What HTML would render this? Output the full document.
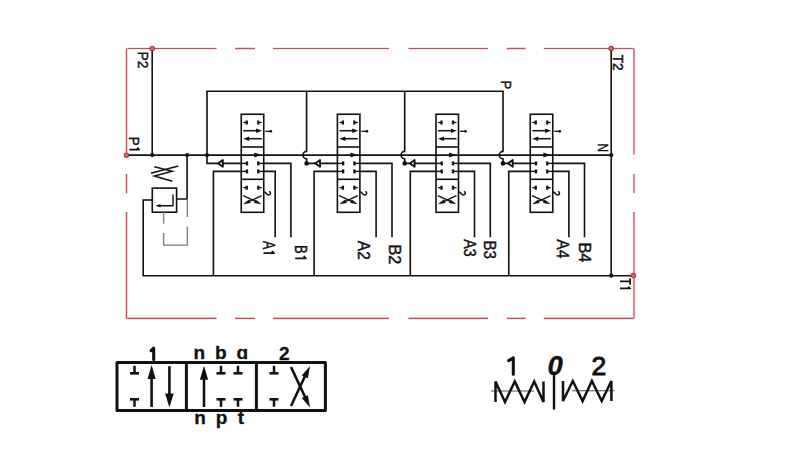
<!DOCTYPE html>
<html><head><meta charset="utf-8"><style>
html,body{margin:0;padding:0;background:#fff;width:800px;height:450px;overflow:hidden}
svg{display:block}
text{font-family:"Liberation Sans",sans-serif}
</style></head><body>
<svg width="800" height="450" viewBox="0 0 800 450">
<rect width="800" height="450" fill="#fff"/>
<line x1="126.5" y1="48.5" x2="216.5" y2="48.5" stroke="#f8dede" stroke-width="2.6" />
<line x1="235" y1="48.5" x2="255" y2="48.5" stroke="#f8dede" stroke-width="2.6" />
<line x1="273" y1="48.5" x2="389" y2="48.5" stroke="#f8dede" stroke-width="2.6" />
<line x1="408.5" y1="48.5" x2="488" y2="48.5" stroke="#f8dede" stroke-width="2.6" />
<line x1="506.7" y1="48.5" x2="525.5" y2="48.5" stroke="#f8dede" stroke-width="2.6" />
<line x1="543.8" y1="48.5" x2="634" y2="48.5" stroke="#f8dede" stroke-width="2.6" />
<line x1="126.5" y1="48.5" x2="216.5" y2="48.5" stroke="#bf525a" stroke-width="1.2" />
<line x1="235" y1="48.5" x2="255" y2="48.5" stroke="#bf525a" stroke-width="1.2" />
<line x1="273" y1="48.5" x2="389" y2="48.5" stroke="#bf525a" stroke-width="1.2" />
<line x1="408.5" y1="48.5" x2="488" y2="48.5" stroke="#bf525a" stroke-width="1.2" />
<line x1="506.7" y1="48.5" x2="525.5" y2="48.5" stroke="#bf525a" stroke-width="1.2" />
<line x1="543.8" y1="48.5" x2="634" y2="48.5" stroke="#bf525a" stroke-width="1.2" />
<line x1="126.5" y1="318.4" x2="216.5" y2="318.4" stroke="#f8dede" stroke-width="2.6" />
<line x1="235" y1="318.4" x2="255" y2="318.4" stroke="#f8dede" stroke-width="2.6" />
<line x1="273" y1="318.4" x2="389" y2="318.4" stroke="#f8dede" stroke-width="2.6" />
<line x1="408.5" y1="318.4" x2="488" y2="318.4" stroke="#f8dede" stroke-width="2.6" />
<line x1="506.7" y1="318.4" x2="525.5" y2="318.4" stroke="#f8dede" stroke-width="2.6" />
<line x1="543.8" y1="318.4" x2="634" y2="318.4" stroke="#f8dede" stroke-width="2.6" />
<line x1="126.5" y1="318.4" x2="216.5" y2="318.4" stroke="#bf525a" stroke-width="1.2" />
<line x1="235" y1="318.4" x2="255" y2="318.4" stroke="#bf525a" stroke-width="1.2" />
<line x1="273" y1="318.4" x2="389" y2="318.4" stroke="#bf525a" stroke-width="1.2" />
<line x1="408.5" y1="318.4" x2="488" y2="318.4" stroke="#bf525a" stroke-width="1.2" />
<line x1="506.7" y1="318.4" x2="525.5" y2="318.4" stroke="#bf525a" stroke-width="1.2" />
<line x1="543.8" y1="318.4" x2="634" y2="318.4" stroke="#bf525a" stroke-width="1.2" />
<line x1="126.5" y1="48.5" x2="126.5" y2="154.5" stroke="#f8dede" stroke-width="2.6" />
<line x1="126.5" y1="174" x2="126.5" y2="193.3" stroke="#f8dede" stroke-width="2.6" />
<line x1="126.5" y1="212" x2="126.5" y2="318.4" stroke="#f8dede" stroke-width="2.6" />
<line x1="126.5" y1="48.5" x2="126.5" y2="154.5" stroke="#bf525a" stroke-width="1.2" />
<line x1="126.5" y1="174" x2="126.5" y2="193.3" stroke="#bf525a" stroke-width="1.2" />
<line x1="126.5" y1="212" x2="126.5" y2="318.4" stroke="#bf525a" stroke-width="1.2" />
<line x1="634" y1="48.5" x2="634" y2="154.5" stroke="#f8dede" stroke-width="2.6" />
<line x1="634" y1="174" x2="634" y2="193.3" stroke="#f8dede" stroke-width="2.6" />
<line x1="634" y1="212" x2="634" y2="318.4" stroke="#f8dede" stroke-width="2.6" />
<line x1="634" y1="48.5" x2="634" y2="154.5" stroke="#bf525a" stroke-width="1.2" />
<line x1="634" y1="174" x2="634" y2="193.3" stroke="#bf525a" stroke-width="1.2" />
<line x1="634" y1="212" x2="634" y2="318.4" stroke="#bf525a" stroke-width="1.2" />
<line x1="152.2" y1="48.5" x2="152.2" y2="155.1" stroke="#111" stroke-width="1.6" stroke-linecap="square"/>
<line x1="126.5" y1="155.1" x2="611.3" y2="155.1" stroke="#111" stroke-width="1.6" stroke-linecap="square"/>
<line x1="611.2" y1="48.5" x2="611.2" y2="275.7" stroke="#111" stroke-width="1.6" stroke-linecap="square"/>
<line x1="143.2" y1="275.7" x2="633.4" y2="275.7" stroke="#111" stroke-width="1.6" stroke-linecap="square"/>
<line x1="207" y1="91.2" x2="503" y2="91.2" stroke="#111" stroke-width="1.6" stroke-linecap="square"/>
<polyline points="187.1,155.1 187.1,199 176.6,199" stroke="#111" stroke-width="1.6" fill="none" stroke-linejoin="miter" />
<rect x="152.3" y="188.1" width="24.3" height="24.1" fill="none" stroke="#111" stroke-width="1.6"/>
<polyline points="152.3,200 143.2,200 143.2,275.7" stroke="#111" stroke-width="1.6" fill="none" stroke-linejoin="miter" />
<polyline points="173,194.6 173,205.7 160,205.7" stroke="#111" stroke-width="1.4" fill="none" stroke-linejoin="miter" />
<polygon points="155.5,205.7 160.5,203.89999999999998 160.5,207.5" fill="#111"/>
<line x1="163.6" y1="212.1" x2="163.6" y2="223.7" stroke="#808080" stroke-width="1.4" />
<polyline points="163.6,232.9 163.6,245.1 187.4,245.1 187.4,226.8" stroke="#808080" stroke-width="1.4" fill="none" stroke-linejoin="miter" />
<line x1="187.4" y1="217" x2="187.4" y2="199.3" stroke="#808080" stroke-width="1.4" />
<polyline points="154.3,166.7 172.3,171.3 154.3,176 172.3,181.3" stroke="#111" stroke-width="1.5" fill="none" stroke-linejoin="miter" />
<line x1="151" y1="173.3" x2="178.3" y2="166" stroke="#111" stroke-width="1.5" />
<circle cx="152.2" cy="155.1" r="2.1" fill="#111"/>
<circle cx="187.1" cy="155.1" r="2.1" fill="#111"/>
<circle cx="207" cy="155.1" r="2.1" fill="#111"/>
<circle cx="611.3" cy="155.1" r="2.1" fill="#111"/>
<circle cx="611.3" cy="275.7" r="2.1" fill="#111"/>
<circle cx="152.2" cy="48.4" r="2.2" fill="#d07078" stroke="#b83040" stroke-width="1.1"/>
<circle cx="611.2" cy="48.4" r="2.2" fill="#d07078" stroke="#b83040" stroke-width="1.1"/>
<circle cx="126.5" cy="155.2" r="2.2" fill="#d07078" stroke="#b83040" stroke-width="1.1"/>
<circle cx="633.4" cy="275.6" r="2.2" fill="#d07078" stroke="#b83040" stroke-width="1.1"/>
<rect x="241.25" y="114.25" width="22.5" height="98.05000000000001" fill="none" stroke="#111" stroke-width="1.6"/>
<line x1="241.25" y1="147.0" x2="263.75" y2="147.0" stroke="#111" stroke-width="1.6" />
<line x1="241.25" y1="179.3" x2="263.75" y2="179.3" stroke="#111" stroke-width="1.6" />
<line x1="243.25" y1="122.5" x2="246.75" y2="122.5" stroke="#111" stroke-width="1.3" />
<line x1="246.75" y1="120.5" x2="246.75" y2="124.5" stroke="#111" stroke-width="2.3"/>
<line x1="258.25" y1="122.5" x2="261.75" y2="122.5" stroke="#111" stroke-width="1.3" />
<line x1="258.25" y1="120.5" x2="258.25" y2="124.5" stroke="#111" stroke-width="2.3"/>
<line x1="243.25" y1="130.7" x2="257.75" y2="130.7" stroke="#111" stroke-width="1.5" />
<polygon points="262.15,130.7 256.15,132.89999999999998 256.15,128.5" fill="#111"/>
<line x1="265.25" y1="131.3" x2="270.25" y2="131.3" stroke="#111" stroke-width="1.3" />
<circle cx="270.75" cy="131.3" r="1.4" fill="#111"/>
<line x1="248.25" y1="138.7" x2="261.75" y2="138.7" stroke="#111" stroke-width="1.5" />
<polygon points="243.25,138.7 249.25,136.5 249.25,140.89999999999998" fill="#111"/>
<polygon points="261.35,155.1 254.35000000000002,157.6 254.35000000000002,152.6" fill="#111"/>
<line x1="241.25" y1="163.4" x2="247.0" y2="163.4" stroke="#111" stroke-width="1.4" />
<line x1="247.0" y1="161.4" x2="247.0" y2="165.4" stroke="#111" stroke-width="2.3"/>
<line x1="258.25" y1="163.4" x2="263.75" y2="163.4" stroke="#111" stroke-width="1.4" />
<line x1="258.25" y1="161.4" x2="258.25" y2="165.4" stroke="#111" stroke-width="2.3"/>
<line x1="241.25" y1="171.4" x2="247.0" y2="171.4" stroke="#111" stroke-width="1.4" />
<line x1="247.0" y1="169.4" x2="247.0" y2="173.4" stroke="#111" stroke-width="2.3"/>
<line x1="258.25" y1="171.4" x2="263.75" y2="171.4" stroke="#111" stroke-width="1.4" />
<line x1="258.25" y1="169.4" x2="258.25" y2="173.4" stroke="#111" stroke-width="2.3"/>
<line x1="243.25" y1="187.7" x2="246.75" y2="187.7" stroke="#111" stroke-width="1.3" />
<line x1="246.75" y1="185.7" x2="246.75" y2="189.7" stroke="#111" stroke-width="2.3"/>
<line x1="258.25" y1="187.7" x2="261.75" y2="187.7" stroke="#111" stroke-width="1.3" />
<line x1="258.25" y1="185.7" x2="258.25" y2="189.7" stroke="#111" stroke-width="2.3"/>
<line x1="243.05" y1="195.7" x2="257.75" y2="202.3" stroke="#111" stroke-width="1.4" />
<polygon points="261.65,204.3 254.0423009492696,202.8918397983482 255.63034226055174,199.43957607816964" fill="#111"/>
<line x1="261.65" y1="195.7" x2="247.25" y2="202.3" stroke="#111" stroke-width="1.4" />
<polygon points="243.05,204.3 249.06965773944825,199.43957607816964 250.6576990507304,202.8918397983482" fill="#111"/>
<path d="M264.25,191.8 C266.25,192.6 266.75,195.2 268.75,195 C270.95,194.6 271.15,192.2 269.15,191.4" stroke="#111" stroke-width="1.5" fill="none"/>
<polyline points="207.0,91.2 207.0,163.4 241.25,163.4" stroke="#111" stroke-width="1.6" fill="none" stroke-linejoin="miter" />
<polygon points="218.2,163.4 222.79999999999998,160.1 222.79999999999998,166.70000000000002" fill="#fff" stroke="#111" stroke-width="1.9" stroke-linejoin="round"/>
<polyline points="213.4,275.7 213.4,171.4 241.25,171.4" stroke="#111" stroke-width="1.6" fill="none" stroke-linejoin="miter" />
<polyline points="263.75,171.4 275.2,171.4 275.2,237.3" stroke="#111" stroke-width="1.6" fill="none" stroke-linejoin="miter" />
<polyline points="263.75,163.4 290.9,163.4 290.9,237.3" stroke="#111" stroke-width="1.6" fill="none" stroke-linejoin="miter" />
<rect x="337.4" y="114.25" width="22.5" height="98.05000000000001" fill="none" stroke="#111" stroke-width="1.6"/>
<line x1="337.4" y1="147.0" x2="359.9" y2="147.0" stroke="#111" stroke-width="1.6" />
<line x1="337.4" y1="179.3" x2="359.9" y2="179.3" stroke="#111" stroke-width="1.6" />
<line x1="339.4" y1="122.5" x2="342.9" y2="122.5" stroke="#111" stroke-width="1.3" />
<line x1="342.9" y1="120.5" x2="342.9" y2="124.5" stroke="#111" stroke-width="2.3"/>
<line x1="354.4" y1="122.5" x2="357.9" y2="122.5" stroke="#111" stroke-width="1.3" />
<line x1="354.4" y1="120.5" x2="354.4" y2="124.5" stroke="#111" stroke-width="2.3"/>
<line x1="339.4" y1="130.7" x2="353.9" y2="130.7" stroke="#111" stroke-width="1.5" />
<polygon points="358.29999999999995,130.7 352.29999999999995,132.89999999999998 352.29999999999995,128.5" fill="#111"/>
<line x1="361.4" y1="131.3" x2="366.4" y2="131.3" stroke="#111" stroke-width="1.3" />
<circle cx="366.9" cy="131.3" r="1.4" fill="#111"/>
<line x1="344.4" y1="138.7" x2="357.9" y2="138.7" stroke="#111" stroke-width="1.5" />
<polygon points="339.4,138.7 345.4,136.5 345.4,140.89999999999998" fill="#111"/>
<polygon points="357.5,155.1 350.5,157.6 350.5,152.6" fill="#111"/>
<line x1="337.4" y1="163.4" x2="343.15" y2="163.4" stroke="#111" stroke-width="1.4" />
<line x1="343.15" y1="161.4" x2="343.15" y2="165.4" stroke="#111" stroke-width="2.3"/>
<line x1="354.4" y1="163.4" x2="359.9" y2="163.4" stroke="#111" stroke-width="1.4" />
<line x1="354.4" y1="161.4" x2="354.4" y2="165.4" stroke="#111" stroke-width="2.3"/>
<line x1="337.4" y1="171.4" x2="343.15" y2="171.4" stroke="#111" stroke-width="1.4" />
<line x1="343.15" y1="169.4" x2="343.15" y2="173.4" stroke="#111" stroke-width="2.3"/>
<line x1="354.4" y1="171.4" x2="359.9" y2="171.4" stroke="#111" stroke-width="1.4" />
<line x1="354.4" y1="169.4" x2="354.4" y2="173.4" stroke="#111" stroke-width="2.3"/>
<line x1="339.4" y1="187.7" x2="342.9" y2="187.7" stroke="#111" stroke-width="1.3" />
<line x1="342.9" y1="185.7" x2="342.9" y2="189.7" stroke="#111" stroke-width="2.3"/>
<line x1="354.4" y1="187.7" x2="357.9" y2="187.7" stroke="#111" stroke-width="1.3" />
<line x1="354.4" y1="185.7" x2="354.4" y2="189.7" stroke="#111" stroke-width="2.3"/>
<line x1="339.2" y1="195.7" x2="353.9" y2="202.3" stroke="#111" stroke-width="1.4" />
<polygon points="357.79999999999995,204.3 350.19230094926957,202.8918397983482 351.7803422605517,199.43957607816964" fill="#111"/>
<line x1="357.79999999999995" y1="195.7" x2="343.4" y2="202.3" stroke="#111" stroke-width="1.4" />
<polygon points="339.2,204.3 345.2196577394482,199.43957607816964 346.8076990507304,202.8918397983482" fill="#111"/>
<path d="M360.4,191.8 C362.4,192.6 362.9,195.2 364.9,195 C367.09999999999997,194.6 367.29999999999995,192.2 365.29999999999995,191.4" stroke="#111" stroke-width="1.5" fill="none"/>
<path d="M306.6,91.2 V151.4 A3.7,3.7 0 0 0 306.6,158.8 V163.4 H337.4" stroke="#111" stroke-width="1.6" fill="none"/>
<circle cx="306.6" cy="163.4" r="2.3" fill="#111"/>
<polygon points="315.4,163.4 320.0,160.1 320.0,166.70000000000002" fill="#fff" stroke="#111" stroke-width="1.9" stroke-linejoin="round"/>
<polyline points="314.1,275.7 314.1,171.4 337.4,171.4" stroke="#111" stroke-width="1.6" fill="none" stroke-linejoin="miter" />
<polyline points="359.9,171.4 376.1,171.4 376.1,237.3" stroke="#111" stroke-width="1.6" fill="none" stroke-linejoin="miter" />
<polyline points="359.9,163.4 392.0,163.4 392.0,237.3" stroke="#111" stroke-width="1.6" fill="none" stroke-linejoin="miter" />
<rect x="436.0" y="114.25" width="22.5" height="98.05000000000001" fill="none" stroke="#111" stroke-width="1.6"/>
<line x1="436.0" y1="147.0" x2="458.5" y2="147.0" stroke="#111" stroke-width="1.6" />
<line x1="436.0" y1="179.3" x2="458.5" y2="179.3" stroke="#111" stroke-width="1.6" />
<line x1="438.0" y1="122.5" x2="441.5" y2="122.5" stroke="#111" stroke-width="1.3" />
<line x1="441.5" y1="120.5" x2="441.5" y2="124.5" stroke="#111" stroke-width="2.3"/>
<line x1="453.0" y1="122.5" x2="456.5" y2="122.5" stroke="#111" stroke-width="1.3" />
<line x1="453.0" y1="120.5" x2="453.0" y2="124.5" stroke="#111" stroke-width="2.3"/>
<line x1="438.0" y1="130.7" x2="452.5" y2="130.7" stroke="#111" stroke-width="1.5" />
<polygon points="456.9,130.7 450.9,132.89999999999998 450.9,128.5" fill="#111"/>
<line x1="460.0" y1="131.3" x2="465.0" y2="131.3" stroke="#111" stroke-width="1.3" />
<circle cx="465.5" cy="131.3" r="1.4" fill="#111"/>
<line x1="443.0" y1="138.7" x2="456.5" y2="138.7" stroke="#111" stroke-width="1.5" />
<polygon points="438.0,138.7 444.0,136.5 444.0,140.89999999999998" fill="#111"/>
<polygon points="456.1,155.1 449.1,157.6 449.1,152.6" fill="#111"/>
<line x1="436.0" y1="163.4" x2="441.75" y2="163.4" stroke="#111" stroke-width="1.4" />
<line x1="441.75" y1="161.4" x2="441.75" y2="165.4" stroke="#111" stroke-width="2.3"/>
<line x1="453.0" y1="163.4" x2="458.5" y2="163.4" stroke="#111" stroke-width="1.4" />
<line x1="453.0" y1="161.4" x2="453.0" y2="165.4" stroke="#111" stroke-width="2.3"/>
<line x1="436.0" y1="171.4" x2="441.75" y2="171.4" stroke="#111" stroke-width="1.4" />
<line x1="441.75" y1="169.4" x2="441.75" y2="173.4" stroke="#111" stroke-width="2.3"/>
<line x1="453.0" y1="171.4" x2="458.5" y2="171.4" stroke="#111" stroke-width="1.4" />
<line x1="453.0" y1="169.4" x2="453.0" y2="173.4" stroke="#111" stroke-width="2.3"/>
<line x1="438.0" y1="187.7" x2="441.5" y2="187.7" stroke="#111" stroke-width="1.3" />
<line x1="441.5" y1="185.7" x2="441.5" y2="189.7" stroke="#111" stroke-width="2.3"/>
<line x1="453.0" y1="187.7" x2="456.5" y2="187.7" stroke="#111" stroke-width="1.3" />
<line x1="453.0" y1="185.7" x2="453.0" y2="189.7" stroke="#111" stroke-width="2.3"/>
<line x1="437.8" y1="195.7" x2="452.5" y2="202.3" stroke="#111" stroke-width="1.4" />
<polygon points="456.4,204.3 448.7923009492696,202.8918397983482 450.38034226055174,199.43957607816964" fill="#111"/>
<line x1="456.4" y1="195.7" x2="442.0" y2="202.3" stroke="#111" stroke-width="1.4" />
<polygon points="437.8,204.3 443.81965773944825,199.43957607816964 445.4076990507304,202.8918397983482" fill="#111"/>
<path d="M459.0,191.8 C461.0,192.6 461.5,195.2 463.5,195 C465.7,194.6 465.9,192.2 463.9,191.4" stroke="#111" stroke-width="1.5" fill="none"/>
<path d="M404.7,91.2 V151.4 A3.7,3.7 0 0 0 404.7,158.8 V163.4 H436.0" stroke="#111" stroke-width="1.6" fill="none"/>
<circle cx="404.7" cy="163.4" r="2.3" fill="#111"/>
<polygon points="410.0,163.4 414.6,160.1 414.6,166.70000000000002" fill="#fff" stroke="#111" stroke-width="1.9" stroke-linejoin="round"/>
<polyline points="410.3,275.7 410.3,171.4 436.0,171.4" stroke="#111" stroke-width="1.6" fill="none" stroke-linejoin="miter" />
<polyline points="458.5,171.4 474.5,171.4 474.5,237.3" stroke="#111" stroke-width="1.6" fill="none" stroke-linejoin="miter" />
<polyline points="458.5,163.4 490.3,163.4 490.3,237.3" stroke="#111" stroke-width="1.6" fill="none" stroke-linejoin="miter" />
<rect x="530.25" y="114.25" width="22.5" height="98.05000000000001" fill="none" stroke="#111" stroke-width="1.6"/>
<line x1="530.25" y1="147.0" x2="552.75" y2="147.0" stroke="#111" stroke-width="1.6" />
<line x1="530.25" y1="179.3" x2="552.75" y2="179.3" stroke="#111" stroke-width="1.6" />
<line x1="532.25" y1="122.5" x2="535.75" y2="122.5" stroke="#111" stroke-width="1.3" />
<line x1="535.75" y1="120.5" x2="535.75" y2="124.5" stroke="#111" stroke-width="2.3"/>
<line x1="547.25" y1="122.5" x2="550.75" y2="122.5" stroke="#111" stroke-width="1.3" />
<line x1="547.25" y1="120.5" x2="547.25" y2="124.5" stroke="#111" stroke-width="2.3"/>
<line x1="532.25" y1="130.7" x2="546.75" y2="130.7" stroke="#111" stroke-width="1.5" />
<polygon points="551.15,130.7 545.15,132.89999999999998 545.15,128.5" fill="#111"/>
<line x1="554.25" y1="131.3" x2="559.25" y2="131.3" stroke="#111" stroke-width="1.3" />
<circle cx="559.75" cy="131.3" r="1.4" fill="#111"/>
<line x1="537.25" y1="138.7" x2="550.75" y2="138.7" stroke="#111" stroke-width="1.5" />
<polygon points="532.25,138.7 538.25,136.5 538.25,140.89999999999998" fill="#111"/>
<polygon points="550.35,155.1 543.35,157.6 543.35,152.6" fill="#111"/>
<line x1="530.25" y1="163.4" x2="536.0" y2="163.4" stroke="#111" stroke-width="1.4" />
<line x1="536.0" y1="161.4" x2="536.0" y2="165.4" stroke="#111" stroke-width="2.3"/>
<line x1="547.25" y1="163.4" x2="552.75" y2="163.4" stroke="#111" stroke-width="1.4" />
<line x1="547.25" y1="161.4" x2="547.25" y2="165.4" stroke="#111" stroke-width="2.3"/>
<line x1="530.25" y1="171.4" x2="536.0" y2="171.4" stroke="#111" stroke-width="1.4" />
<line x1="536.0" y1="169.4" x2="536.0" y2="173.4" stroke="#111" stroke-width="2.3"/>
<line x1="547.25" y1="171.4" x2="552.75" y2="171.4" stroke="#111" stroke-width="1.4" />
<line x1="547.25" y1="169.4" x2="547.25" y2="173.4" stroke="#111" stroke-width="2.3"/>
<line x1="532.25" y1="187.7" x2="535.75" y2="187.7" stroke="#111" stroke-width="1.3" />
<line x1="535.75" y1="185.7" x2="535.75" y2="189.7" stroke="#111" stroke-width="2.3"/>
<line x1="547.25" y1="187.7" x2="550.75" y2="187.7" stroke="#111" stroke-width="1.3" />
<line x1="547.25" y1="185.7" x2="547.25" y2="189.7" stroke="#111" stroke-width="2.3"/>
<line x1="532.05" y1="195.7" x2="546.75" y2="202.3" stroke="#111" stroke-width="1.4" />
<polygon points="550.65,204.3 543.0423009492697,202.8918397983482 544.6303422605517,199.43957607816964" fill="#111"/>
<line x1="550.65" y1="195.7" x2="536.25" y2="202.3" stroke="#111" stroke-width="1.4" />
<polygon points="532.05,204.3 538.0696577394482,199.43957607816964 539.6576990507302,202.8918397983482" fill="#111"/>
<path d="M553.25,191.8 C555.25,192.6 555.75,195.2 557.75,195 C559.95,194.6 560.15,192.2 558.15,191.4" stroke="#111" stroke-width="1.5" fill="none"/>
<path d="M503.0,91.2 V151.4 A3.7,3.7 0 0 0 503.0,158.8 V163.4 H530.25" stroke="#111" stroke-width="1.6" fill="none"/>
<circle cx="503.0" cy="163.4" r="2.3" fill="#111"/>
<polygon points="508.1,163.4 512.7,160.1 512.7,166.70000000000002" fill="#fff" stroke="#111" stroke-width="1.9" stroke-linejoin="round"/>
<polyline points="508.75,275.7 508.75,171.4 530.25,171.4" stroke="#111" stroke-width="1.6" fill="none" stroke-linejoin="miter" />
<polyline points="552.75,171.4 568.9,171.4 568.9,237.3" stroke="#111" stroke-width="1.6" fill="none" stroke-linejoin="miter" />
<polyline points="552.75,163.4 584.5,163.4 584.5,237.3" stroke="#111" stroke-width="1.6" fill="none" stroke-linejoin="miter" />
<text transform="translate(262.9,240.9) rotate(90) scale(0.753,1)" font-size="16.5" fill="#111" font-family="Liberation Sans" stroke="#111" stroke-width="0.45">A</text>
<path d="M271.7,251.1 L274.1,253.1 L263.5,253.1" stroke="#111" stroke-width="1.7" fill="none" stroke-linejoin="round"/>
<text transform="translate(294.7,245.0) rotate(90) scale(0.787,1)" font-size="16.5" fill="#111" font-family="Liberation Sans" stroke="#111" stroke-width="0.45">B</text>
<path d="M303.6,255.9 L305.9,258.3 L295.2,258.3" stroke="#111" stroke-width="1.7" fill="none" stroke-linejoin="round"/>
<text transform="translate(358,240.8) rotate(90) scale(0.938,1)" font-size="16.5" fill="#111" font-family="Liberation Sans" stroke="#111" stroke-width="0.45">A<tspan dx="0">2</tspan></text>
<text transform="translate(389.4,244.4) rotate(90) scale(0.986,1)" font-size="16.5" fill="#111" font-family="Liberation Sans" stroke="#111" stroke-width="0.45">B<tspan dx="0">2</tspan></text>
<text transform="translate(463.7,239.2) rotate(90) scale(0.861,1)" font-size="16.5" fill="#111" font-family="Liberation Sans" stroke="#111" stroke-width="0.45">A<tspan dx="0">3</tspan></text>
<text transform="translate(484.4,240.4) rotate(90) scale(0.919,1)" font-size="16.5" fill="#111" font-family="Liberation Sans" stroke="#111" stroke-width="0.45">B<tspan dx="0">3</tspan></text>
<text transform="translate(556.8,239.3) rotate(90) scale(0.944,1)" font-size="16.5" fill="#111" font-family="Liberation Sans" stroke="#111" stroke-width="0.45">A<tspan dx="0">4</tspan></text>
<text transform="translate(578.9,242.5) rotate(90) scale(0.985,1)" font-size="16.5" fill="#111" font-family="Liberation Sans" stroke="#111" stroke-width="0.45">B<tspan dx="0">4</tspan></text>
<text transform="translate(137.5,51.5) rotate(90) scale(0.891,1)" font-size="15.5" fill="#111" font-family="Liberation Sans" stroke="#111" stroke-width="0.45">P<tspan dx="0">2</tspan></text>
<text transform="translate(129.4,136.7) rotate(90) scale(0.858,1)" font-size="15.5" fill="#111" font-family="Liberation Sans" stroke="#111" stroke-width="0.45">P</text>
<path d="M137,147.6 L139.1,149.6 L129.3,149.6" stroke="#111" stroke-width="1.7" fill="none" stroke-linejoin="round"/>
<text transform="translate(612.8,54.7) rotate(90) scale(0.884,1)" font-size="15.5" fill="#111" font-family="Liberation Sans" stroke="#111" stroke-width="0.45">T<tspan dx="0">2</tspan></text>
<path d="M628,286.7 L630.2,288.4 L619.9,288.4 M630.1,278.3 L630.1,284.7 M619.9,281.3 L630.1,281.3" stroke="#111" stroke-width="1.7" fill="none" stroke-linejoin="round"/>
<text transform="translate(598,143.5) rotate(90) scale(0.759,1)" font-size="15.5" fill="#111" font-family="Liberation Sans" stroke="#111" stroke-width="0.45">N</text>
<text transform="translate(501.3,80.5) rotate(90) scale(0.844,1)" font-size="15.5" fill="#111" font-family="Liberation Sans" stroke="#111" stroke-width="0.45">P</text>
<rect x="117" y="362.5" width="208.4" height="48.1" fill="none" stroke="#111" stroke-width="3.0" stroke-linejoin="round"/>
<line x1="186.4" y1="362.5" x2="186.4" y2="410.6" stroke="#111" stroke-width="3.0" />
<line x1="256.4" y1="362.5" x2="256.4" y2="410.6" stroke="#111" stroke-width="3.0" />
<line x1="134.5" y1="365.8" x2="134.5" y2="373.3" stroke="#111" stroke-width="2.5" />
<line x1="130.0" y1="373.3" x2="139.0" y2="373.3" stroke="#111" stroke-width="2.6" />
<line x1="130.0" y1="399.3" x2="139.0" y2="399.3" stroke="#111" stroke-width="2.6" />
<line x1="134.5" y1="399.3" x2="134.5" y2="406.8" stroke="#111" stroke-width="2.5" />
<line x1="151.6" y1="407" x2="151.6" y2="376" stroke="#111" stroke-width="2.6" />
<polygon points="151.6,365 155.7,379.0 147.5,379.0" fill="#111"/>
<line x1="169.4" y1="366.2" x2="169.4" y2="396" stroke="#111" stroke-width="2.6" />
<polygon points="169.4,407.4 165.1,393.4 173.70000000000002,393.4" fill="#111"/>
<line x1="204" y1="407" x2="204" y2="377" stroke="#111" stroke-width="2.6" />
<polygon points="204,365.8 208.1,379.8 199.9,379.8" fill="#111"/>
<line x1="221" y1="365.8" x2="221" y2="373.3" stroke="#111" stroke-width="2.5" />
<line x1="216.5" y1="373.3" x2="225.5" y2="373.3" stroke="#111" stroke-width="2.6" />
<line x1="238" y1="365.8" x2="238" y2="373.3" stroke="#111" stroke-width="2.5" />
<line x1="233.5" y1="373.3" x2="242.5" y2="373.3" stroke="#111" stroke-width="2.6" />
<line x1="216.5" y1="399.3" x2="225.5" y2="399.3" stroke="#111" stroke-width="2.6" />
<line x1="221" y1="399.3" x2="221" y2="406.8" stroke="#111" stroke-width="2.5" />
<line x1="233.5" y1="399.3" x2="242.5" y2="399.3" stroke="#111" stroke-width="2.6" />
<line x1="238" y1="399.3" x2="238" y2="406.8" stroke="#111" stroke-width="2.5" />
<line x1="274" y1="365.8" x2="274" y2="373.3" stroke="#111" stroke-width="2.5" />
<line x1="269.5" y1="373.3" x2="278.5" y2="373.3" stroke="#111" stroke-width="2.6" />
<line x1="269.5" y1="399.3" x2="278.5" y2="399.3" stroke="#111" stroke-width="2.6" />
<line x1="274" y1="399.3" x2="274" y2="406.8" stroke="#111" stroke-width="2.5" />
<line x1="291" y1="367" x2="306" y2="399" stroke="#111" stroke-width="2.6" />
<polygon points="310,407.5 301.78017471037595,398.1194631172807 307.9224617399851,395.2018767782164" fill="#111"/>
<line x1="291" y1="406" x2="306" y2="374" stroke="#111" stroke-width="2.6" />
<polygon points="310,366 307.9224617399851,378.2981232217836 301.78017471037595,375.3805368827193" fill="#111"/>
<path d="M151.1,350.7 L153.7,348.2 L153.7,359.6" stroke="#111" stroke-width="3.1" fill="none" stroke-linecap="round" stroke-linejoin="round"/>
<text transform="translate(193.5,359.1)" font-size="19" fill="#111" font-family="Liberation Sans" font-weight="bold" stroke="#111" stroke-width="0.3">n</text>
<text transform="translate(215,359.1)" font-size="19" fill="#111" font-family="Liberation Sans" font-weight="bold" stroke="#111" stroke-width="0.3">b</text>
<text transform="translate(236.5,359.1)" font-size="19" fill="#111" font-family="Liberation Sans" font-weight="bold" stroke="#111" stroke-width="0.3">&#x251;</text>
<text transform="translate(279,360.2)" font-size="19" fill="#111" font-family="Liberation Sans" font-weight="bold" stroke="#111" stroke-width="0.3">2</text>
<text transform="translate(194.2,424.3)" font-size="19" fill="#111" font-family="Liberation Sans" font-weight="bold" stroke="#111" stroke-width="0.3">n</text>
<text transform="translate(215.8,424.3)" font-size="19" fill="#111" font-family="Liberation Sans" font-weight="bold" stroke="#111" stroke-width="0.3">p</text>
<text transform="translate(237.8,424.3)" font-size="19" fill="#111" font-family="Liberation Sans" font-weight="bold" stroke="#111" stroke-width="0.3">t</text>
<line x1="491" y1="391" x2="534" y2="391" stroke="#555" stroke-width="1.1" />
<line x1="572" y1="390.8" x2="614.6" y2="390.8" stroke="#555" stroke-width="1.1" />
<polyline points="495.5,402 495.5,381.5 505,402 514.8,381.5 524.5,402 534.2,381.5 543.5,402 543.5,381.5" stroke="#111" stroke-width="2.5" fill="none" stroke-linejoin="miter" />
<polyline points="563,381 563,401 572.8,381 582.6,401 591.9,381 601.7,401 611.4,381 611.4,401" stroke="#111" stroke-width="2.5" fill="none" stroke-linejoin="miter" />
<line x1="554" y1="373" x2="554" y2="409.5" stroke="#111" stroke-width="2.4" />
<path d="M508.7,360.6 L513.3,357.8 L513.3,374.3" stroke="#111" stroke-width="3.1" fill="none" stroke-linecap="round" stroke-linejoin="round"/>
<text transform="translate(547.6,374.8)" font-size="27.5" fill="#111" font-family="Liberation Sans" font-weight="bold" font-style="italic" stroke="#111" stroke-width="0.4" transform-origin="0 0">0</text>
<text transform="translate(591.6,374.6)" font-size="26.5" fill="#111" font-family="Liberation Sans" stroke="#111" stroke-width="1.0">2</text>
</svg>
</body></html>
